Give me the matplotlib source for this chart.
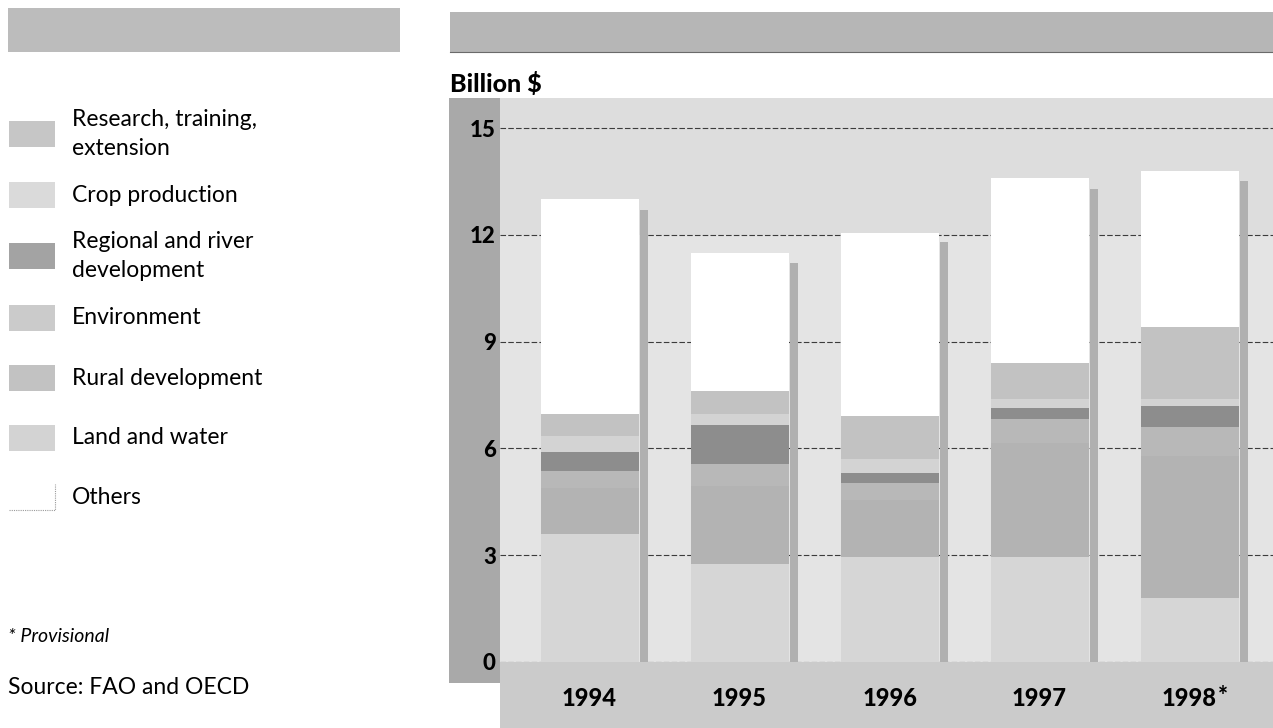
import matplotlib
matplotlib.use("Agg")
import matplotlib.pyplot as plt
import matplotlib.transforms as mtransforms
from matplotlib.patches import Rectangle
import numpy as np

plt.rcParams['font.family'] = ['Lato', 'DejaVu Sans']

# ---- data (billion $) ----
years = ['1994', '1995', '1996', '1997', '1998*']
land_water = [3.6, 2.75, 2.95, 2.95, 1.8]
rural_dev = [1.3, 2.2, 1.6, 3.2, 4.0]
environment = [0.47, 0.6, 0.48, 0.67, 0.8]
regional_river = [0.53, 1.12, 0.27, 0.31, 0.6]
crop_production = [0.45, 0.3, 0.4, 0.27, 0.2]
research = [0.61, 0.63, 1.2, 1.0, 2.0]
others = [6.04, 3.9, 5.15, 5.2, 4.4]
side_heights = [12.7, 11.2, 11.8, 13.3, 13.5]
yticks = [0, 3, 6, 9, 12, 15]

legend_labels = ['Research, training,\nextension', 'Crop production',
                 'Regional and river\ndevelopment', 'Environment',
                 'Rural development', 'Land and water', 'Others']

# stacked from the bottom up
stack = [
    (land_water, '#d6d6d6'),
    (rural_dev, '#b3b3b3'),
    (environment, '#b8b8b8'),
    (regional_river, '#8d8d8d'),
    (crop_production, '#d3d3d3'),
    (research, '#c2c2c2'),
    (others, '#ffffff'),
]

W, H = 1273, 728
fig = plt.figure(figsize=(W / 100, H / 100), dpi=100)
fig.patch.set_facecolor('white')


def fx(px):
    return px / W


def fy(py):
    return 1 - py / H


def frect(x0, y0, x1, y1, color, z=-5, **kw):
    fig.add_artist(Rectangle((fx(x0), fy(y1)), fx(x1) - fx(x0), fy(y0) - fy(y1),
                             transform=fig.transFigure, facecolor=color,
                             edgecolor='none', zorder=z, **kw))


# header bands
frect(8, 8, 400, 52, '#bcbcbc')
frect(450, 12, W, 52, '#b6b6b6')
fig.add_artist(plt.Line2D([fx(450), 1], [fy(52), fy(52)], color='#6a6a6a', lw=0.8, zorder=-4))

# value-axis band and bottom strip
frect(449, 98, 500, 683, '#a9a9a9')
frect(500, 662, W, H, '#cbcbcb')

# plot area
ax_left, ax_top, ax_bottom = 500, 98, 662
ax = fig.add_axes([fx(ax_left), fy(ax_bottom), 1 - fx(ax_left), fy(ax_top) - fy(ax_bottom)])
ax.set_zorder(2)
ax.set_facecolor('#e4e4e4')
px_per_unit = (662 - 128) / 15
ax.set_ylim(0, (ax_bottom - ax_top) / px_per_unit)
slot = 150.0
x0_px = 589.5
ax.set_xlim((ax_left - x0_px) / slot, (W - x0_px) / slot)
ax.axhspan(12, 20, color='#dddddd', zorder=0, lw=0)

x = np.arange(len(years))
bar_w = 98 / slot
side_w = 8 / slot
side_off = (644 - x0_px) / slot

bottom = np.zeros(len(years))
for vals, col in stack:
    ax.bar(x, vals, bar_w, bottom=bottom, color=col, lw=0, zorder=3)
    bottom += np.array(vals)
ax.bar(x + side_off, side_heights, side_w, color='#b0b0b0', lw=0, zorder=3)

ax.set_yticks(yticks)
ax.set_yticklabels([str(t) for t in yticks], fontsize=16, fontweight='black')
ax.tick_params(axis='y', length=0, pad=3)
ax.set_xticks([])
ax.grid(axis='y', color='#3c3c3c', lw=0.8, linestyle=(0, (5, 2)), zorder=1)
ax.set_axisbelow(True)
for s in ax.spines.values():
    s.set_visible(False)

# year labels under the bars
trans = mtransforms.blended_transform_factory(ax.transData, ax.transAxes)
ylab = -(699 - ax_bottom) / (ax_bottom - ax_top)
for xi, yr in zip(x, years):
    base = yr.rstrip('*')
    t = ax.text(xi, ylab, base, transform=trans, ha='center', va='center',
                fontsize=17, fontweight='black', clip_on=False)
    if yr.endswith('*'):
        ax.annotate('*', xy=(1, 1), xycoords=t, ha='left', va='top',
                    xytext=(0.5, 2), textcoords='offset points',
                    fontsize=17, fontweight='black')

fig.text(fx(450), fy(84), 'Billion $', fontsize=18, fontweight='black',
         ha='left', va='center')

# legend
legend_colors = ['#c6c6c6', '#dadada', '#a3a3a3', '#cbcbcb', '#c2c2c2', '#d3d3d3', '#ffffff']
text_y = [134, 195, 256, 318, 378, 438, 497]
for lab, col, ty in zip(legend_labels, legend_colors, text_y):
    frect(9, ty - 13, 55, ty + 13, col)
    if col == '#ffffff':
        fig.add_artist(plt.Line2D([fx(9), fx(55), fx(55)], [fy(ty + 13), fy(ty + 13), fy(ty - 13)],
                                  color='#9a9a9a', lw=0.8, linestyle=(0, (1, 1))))
    fig.text(fx(72), fy(ty), lab, fontsize=16.5, ha='left', va='center', linespacing=1.5)

fig.text(fx(8), fy(636), '* Provisional', fontsize=14, style='italic', ha='left', va='center')
fig.text(fx(8), fy(688), 'Source: FAO and OECD', fontsize=16.5, ha='left', va='center')

fig.savefig('out.png', dpi=100, facecolor='white')
